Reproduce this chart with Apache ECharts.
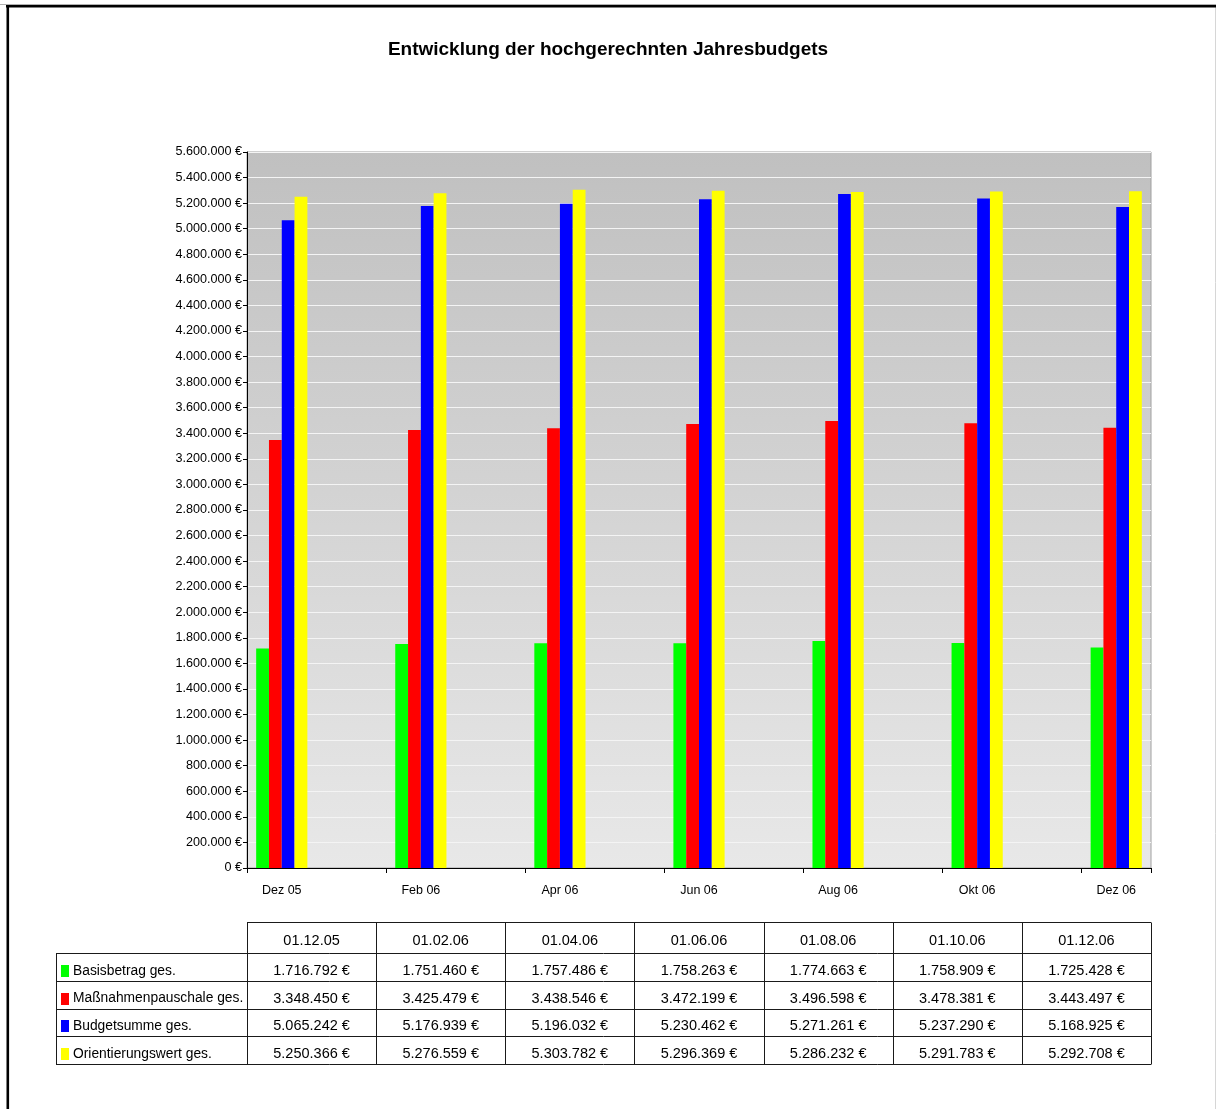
<!DOCTYPE html>
<html>
<head>
<meta charset="utf-8">
<title>Entwicklung der hochgerechnten Jahresbudgets</title>
<script src="https://cdn.jsdelivr.net/npm/echarts@6/dist/echarts.min.js"></script>
<style>
  html, body { margin: 0; padding: 0; background: #ffffff; }
  #chart { width: 1216px; height: 1109px; }
</style>
</head>
<body>
<div id="chart"></div>
<script>
// Stichtage (Tabellenkopf) und Achsenbeschriftungen
const dates = ['01.12.05', '01.02.06', '01.04.06', '01.06.06', '01.08.06', '01.10.06', '01.12.06'];
const axisLabels = ['Dez 05', 'Feb 06', 'Apr 06', 'Jun 06', 'Aug 06', 'Okt 06', 'Dez 06'];

// Hochgerechnete Beträge je Stichtag
const basisbetrag = [1716792, 1751460, 1757486, 1758263, 1774663, 1758909, 1725428];
const massnahmenpauschale = [3348450, 3425479, 3438546, 3472199, 3496598, 3478381, 3443497];
const budgetsumme = [5065242, 5176939, 5196032, 5230462, 5271261, 5237290, 5168925];
const orientierungswert = [5250366, 5276559, 5303782, 5296369, 5286232, 5291783, 5292708];

const seriesNames = ['Basisbetrag ges.', 'Maßnahmenpauschale ges.', 'Budgetsumme ges.', 'Orientierungswert ges.'];
const seriesValues = [basisbetrag, massnahmenpauschale, budgetsumme, orientierungswert];
const seriesColors = ['#00ff00', '#ff0000', '#0000ff', '#ffff00'];

const FONT = '"Liberation Sans", Arial, Helvetica, sans-serif';

// Betrag im deutschen Format: 1.716.792 €
function euro(v) {
  return String(Math.round(v)).replace(/\B(?=(\d{3})+(?!\d))/g, '.') + ' €';
}

// Die Zeitachse läuft monatsweise; Werte liegen nur auf jedem zweiten Monat.
const slots = [];
axisLabels.forEach(function (l, i) {
  slots.push(l);
  if (i < axisLabels.length - 1) slots.push('');
});
function spread(arr) {
  const out = [];
  arr.forEach(function (v, i) {
    out.push(v);
    if (i < arr.length - 1) out.push(null);
  });
  return out;
}

// Plotbereich
const plot = { left: 247, top: 152, width: 904, height: 716 };

// Datentabelle unter dem Diagramm
const table = {
  left: 56,
  colStart: 247,
  colW: 904 / 7,
  headTop: 922,
  headBottom: 953,
  rowH: 27.8
};

const graphics = [];
const lineColor = '#1a1a1a';
function hline(x1, x2, y) {
  graphics.push({ type: 'line', silent: true, z: 100,
    shape: { x1: x1, y1: Math.round(y) + 0.5, x2: x2, y2: Math.round(y) + 0.5 },
    style: { stroke: lineColor, lineWidth: 1 } });
}
function vline(x, y1, y2) {
  graphics.push({ type: 'line', silent: true, z: 100,
    shape: { x1: Math.round(x) + 0.5, y1: y1, x2: Math.round(x) + 0.5, y2: y2 },
    style: { stroke: lineColor, lineWidth: 1 } });
}
function text(str, x, y, size, align) {
  graphics.push({ type: 'text', silent: true, z: 101,
    style: { text: str, x: x, y: y, fill: '#000000',
      fontSize: size, fontFamily: FONT,
      align: align, verticalAlign: 'middle',
      textAlign: align, textVerticalAlign: 'middle' } });
}

const tableRight = table.colStart + table.colW * dates.length;
const tableBottom = table.headBottom + table.rowH * seriesNames.length;

// Rahmenlinien
hline(table.colStart, tableRight, table.headTop);
hline(table.left, tableRight, table.headBottom);
for (let r = 1; r <= seriesNames.length; r++) {
  hline(table.left, tableRight, table.headBottom + table.rowH * r);
}
vline(table.left, Math.round(table.headBottom) + 0.5, Math.round(tableBottom) + 0.5);
for (let c = 0; c <= dates.length; c++) {
  vline(table.colStart + table.colW * c, Math.round(table.headTop) + 0.5, Math.round(tableBottom) + 0.5);
}

// Kopfzeile
dates.forEach(function (d, c) {
  text(d, table.colStart + table.colW * (c + 0.5), table.headTop + 18.5, 14.5, 'center');
});

// Zeilen mit Legendenfarbe, Bezeichnung und Beträgen
seriesNames.forEach(function (name, r) {
  const rowBottom = table.headBottom + table.rowH * (r + 1);
  const cy = rowBottom - 10;
  graphics.push({ type: 'rect', silent: true, z: 101,
    shape: { x: 61, y: Math.round(rowBottom) - 16, width: 8, height: 12 },
    style: { fill: seriesColors[r] } });
  text(name, 73, cy, 13.8, 'left');
  seriesValues[r].forEach(function (v, c) {
    text(euro(v), table.colStart + table.colW * (c + 0.5), cy, 14.5, 'center');
  });
});

// Äußerer Rahmen (oben und links kräftig, rechts hell)
graphics.push({ type: 'line', silent: true, z: 100,
  shape: { x1: 0, y1: 4.5, x2: 1216, y2: 4.5 }, style: { stroke: '#b0b0b0', lineWidth: 1 } });
graphics.push({ type: 'line', silent: true, z: 101,
  shape: { x1: 6, y1: 6.3, x2: 1216, y2: 6.3 }, style: { stroke: '#000000', lineWidth: 2.6 } });
graphics.push({ type: 'line', silent: true, z: 101,
  shape: { x1: 7.8, y1: 5, x2: 7.8, y2: 1109 }, style: { stroke: '#000000', lineWidth: 2.6 } });
graphics.push({ type: 'line', silent: true, z: 100,
  shape: { x1: 1215.5, y1: 7, x2: 1215.5, y2: 1109 }, style: { stroke: '#d6d6d6', lineWidth: 1 } });

const chart = echarts.init(document.getElementById('chart'), null, { renderer: 'canvas' });

chart.setOption({
  backgroundColor: '#ffffff',
  animation: false,
  title: {
    text: 'Entwicklung der hochgerechnten Jahresbudgets',
    left: 'center',
    top: 35,
    textStyle: { fontSize: 19, fontWeight: 'bold', color: '#000000', fontFamily: FONT }
  },
  grid: {
    left: plot.left,
    top: plot.top,
    width: plot.width,
    height: plot.height,
    show: true,
    borderColor: '#a0a0a0',
    borderWidth: 1,
    backgroundColor: {
      type: 'linear', x: 0, y: 0, x2: 0, y2: 1,
      colorStops: [
        { offset: 0, color: '#c0c0c0' },
        { offset: 1, color: '#e8e8e8' }
      ]
    }
  },
  xAxis: {
    type: 'category',
    data: slots,
    boundaryGap: true,
    axisLine: { show: true, lineStyle: { color: '#000000', width: 1 } },
    axisTick: { show: true, interval: 1, length: 5, lineStyle: { color: '#000000' } },
    axisLabel: { interval: 1, margin: 16, color: '#000000', fontSize: 12.5, fontFamily: FONT },
    splitLine: { show: false }
  },
  yAxis: {
    type: 'value',
    min: 0,
    max: 5600000,
    interval: 200000,
    axisLine: { show: true, lineStyle: { color: '#000000', width: 1 } },
    axisTick: { show: true, length: 4, lineStyle: { color: '#000000' } },
    axisLabel: { margin: 5, padding: [4, 0, 0, 0], color: '#000000', fontSize: 12.6, fontFamily: FONT, formatter: euro },
    splitLine: { show: true, lineStyle: { color: '#f4f4f4', width: 1 } }
  },
  series: seriesNames.map(function (name, i) {
    return {
      name: name,
      type: 'bar',
      data: spread(seriesValues[i]),
      barWidth: 12.8,
      barGap: '0%',
      itemStyle: { color: seriesColors[i] },
      emphasis: { disabled: true }
    };
  }),
  graphic: graphics
});
</script>
</body>
</html>
